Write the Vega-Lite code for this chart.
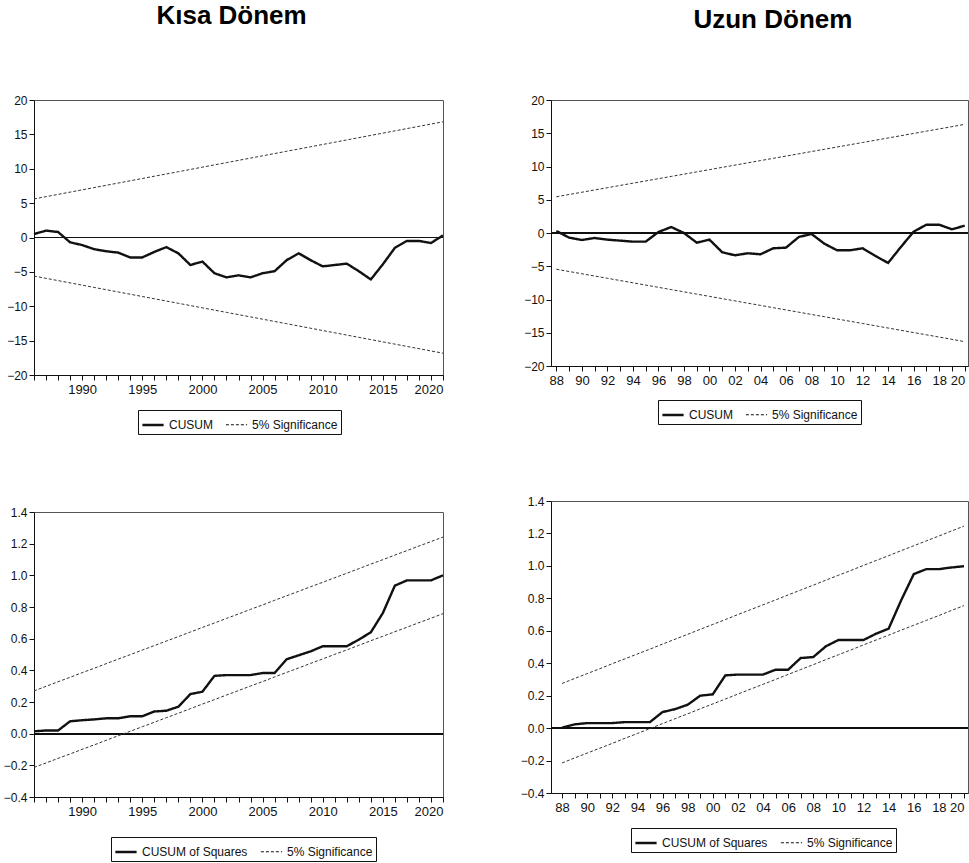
{
  "$schema": "https://vega.github.io/schema/vega-lite/v6.json",
  "padding": {"left": 2, "top": 2, "right": 0, "bottom": 0},
  "background": "white",
  "datasets": {
    "kisaCusum": [
      {"year": 1986, "stat": 0.5, "upper": 5.61, "lower": -5.61},
      {"year": 1987, "stat": 1.0, "upper": 5.94, "lower": -5.94},
      {"year": 1988, "stat": 0.8, "upper": 6.27, "lower": -6.27},
      {"year": 1989, "stat": -0.7, "upper": 6.6, "lower": -6.6},
      {"year": 1990, "stat": -1.1, "upper": 6.93, "lower": -6.93},
      {"year": 1991, "stat": -1.7, "upper": 7.26, "lower": -7.26},
      {"year": 1992, "stat": -2.0, "upper": 7.59, "lower": -7.59},
      {"year": 1993, "stat": -2.2, "upper": 7.92, "lower": -7.92},
      {"year": 1994, "stat": -2.9, "upper": 8.25, "lower": -8.25},
      {"year": 1995, "stat": -2.9, "upper": 8.58, "lower": -8.58},
      {"year": 1996, "stat": -2.1, "upper": 8.91, "lower": -8.91},
      {"year": 1997, "stat": -1.4, "upper": 9.24, "lower": -9.24},
      {"year": 1998, "stat": -2.3, "upper": 9.57, "lower": -9.57},
      {"year": 1999, "stat": -4.0, "upper": 9.9, "lower": -9.9},
      {"year": 2000, "stat": -3.5, "upper": 10.23, "lower": -10.23},
      {"year": 2001, "stat": -5.2, "upper": 10.56, "lower": -10.56},
      {"year": 2002, "stat": -5.8, "upper": 10.89, "lower": -10.89},
      {"year": 2003, "stat": -5.5, "upper": 11.22, "lower": -11.22},
      {"year": 2004, "stat": -5.8, "upper": 11.55, "lower": -11.55},
      {"year": 2005, "stat": -5.2, "upper": 11.88, "lower": -11.88},
      {"year": 2006, "stat": -4.9, "upper": 12.21, "lower": -12.21},
      {"year": 2007, "stat": -3.3, "upper": 12.54, "lower": -12.54},
      {"year": 2008, "stat": -2.3, "upper": 12.87, "lower": -12.87},
      {"year": 2009, "stat": -3.3, "upper": 13.2, "lower": -13.2},
      {"year": 2010, "stat": -4.2, "upper": 13.53, "lower": -13.53},
      {"year": 2011, "stat": -4.0, "upper": 13.86, "lower": -13.86},
      {"year": 2012, "stat": -3.8, "upper": 14.19, "lower": -14.19},
      {"year": 2013, "stat": -4.9, "upper": 14.52, "lower": -14.52},
      {"year": 2014, "stat": -6.1, "upper": 14.85, "lower": -14.85},
      {"year": 2015, "stat": -3.9, "upper": 15.18, "lower": -15.18},
      {"year": 2016, "stat": -1.5, "upper": 15.51, "lower": -15.51},
      {"year": 2017, "stat": -0.5, "upper": 15.84, "lower": -15.84},
      {"year": 2018, "stat": -0.5, "upper": 16.17, "lower": -16.17},
      {"year": 2019, "stat": -0.8, "upper": 16.5, "lower": -16.5},
      {"year": 2020, "stat": 0.3, "upper": 16.83, "lower": -16.83}
    ],
    "kisaSquares": [
      {"year": 1986, "stat": 0.015, "upper": 0.27, "lower": -0.213},
      {"year": 1987, "stat": 0.02, "upper": 0.299, "lower": -0.185},
      {"year": 1988, "stat": 0.02, "upper": 0.328, "lower": -0.156},
      {"year": 1989, "stat": 0.078, "upper": 0.356, "lower": -0.128},
      {"year": 1990, "stat": 0.085, "upper": 0.385, "lower": -0.099},
      {"year": 1991, "stat": 0.09, "upper": 0.413, "lower": -0.071},
      {"year": 1992, "stat": 0.097, "upper": 0.442, "lower": -0.042},
      {"year": 1993, "stat": 0.097, "upper": 0.471, "lower": -0.013},
      {"year": 1994, "stat": 0.11, "upper": 0.499, "lower": 0.015},
      {"year": 1995, "stat": 0.11, "upper": 0.528, "lower": 0.044},
      {"year": 1996, "stat": 0.14, "upper": 0.556, "lower": 0.072},
      {"year": 1997, "stat": 0.145, "upper": 0.585, "lower": 0.101},
      {"year": 1998, "stat": 0.17, "upper": 0.613, "lower": 0.129},
      {"year": 1999, "stat": 0.25, "upper": 0.642, "lower": 0.158},
      {"year": 2000, "stat": 0.265, "upper": 0.671, "lower": 0.187},
      {"year": 2001, "stat": 0.365, "upper": 0.699, "lower": 0.215},
      {"year": 2002, "stat": 0.37, "upper": 0.728, "lower": 0.244},
      {"year": 2003, "stat": 0.37, "upper": 0.756, "lower": 0.272},
      {"year": 2004, "stat": 0.37, "upper": 0.785, "lower": 0.301},
      {"year": 2005, "stat": 0.383, "upper": 0.813, "lower": 0.329},
      {"year": 2006, "stat": 0.383, "upper": 0.842, "lower": 0.358},
      {"year": 2007, "stat": 0.47, "upper": 0.871, "lower": 0.387},
      {"year": 2008, "stat": 0.495, "upper": 0.899, "lower": 0.415},
      {"year": 2009, "stat": 0.52, "upper": 0.928, "lower": 0.444},
      {"year": 2010, "stat": 0.552, "upper": 0.956, "lower": 0.472},
      {"year": 2011, "stat": 0.552, "upper": 0.985, "lower": 0.501},
      {"year": 2012, "stat": 0.552, "upper": 1.013, "lower": 0.529},
      {"year": 2013, "stat": 0.594, "upper": 1.042, "lower": 0.558},
      {"year": 2014, "stat": 0.64, "upper": 1.071, "lower": 0.587},
      {"year": 2015, "stat": 0.762, "upper": 1.099, "lower": 0.615},
      {"year": 2016, "stat": 0.935, "upper": 1.128, "lower": 0.644},
      {"year": 2017, "stat": 0.968, "upper": 1.156, "lower": 0.672},
      {"year": 2018, "stat": 0.968, "upper": 1.185, "lower": 0.701},
      {"year": 2019, "stat": 0.968, "upper": 1.213, "lower": 0.729},
      {"year": 2020, "stat": 1.0, "upper": 1.242, "lower": 0.758}
    ],
    "uzunCusum": [
      {"year": 1988, "stat": 0.3, "upper": 5.45, "lower": -5.45},
      {"year": 1989, "stat": -0.7, "upper": 5.79, "lower": -5.79},
      {"year": 1990, "stat": -1.05, "upper": 6.13, "lower": -6.13},
      {"year": 1991, "stat": -0.75, "upper": 6.47, "lower": -6.47},
      {"year": 1992, "stat": -1.0, "upper": 6.81, "lower": -6.81},
      {"year": 1993, "stat": -1.15, "upper": 7.15, "lower": -7.15},
      {"year": 1994, "stat": -1.3, "upper": 7.49, "lower": -7.49},
      {"year": 1995, "stat": -1.3, "upper": 7.83, "lower": -7.83},
      {"year": 1996, "stat": 0.15, "upper": 8.17, "lower": -8.17},
      {"year": 1997, "stat": 0.9, "upper": 8.51, "lower": -8.51},
      {"year": 1998, "stat": 0.0, "upper": 8.85, "lower": -8.85},
      {"year": 1999, "stat": -1.45, "upper": 9.19, "lower": -9.19},
      {"year": 2000, "stat": -1.0, "upper": 9.53, "lower": -9.53},
      {"year": 2001, "stat": -2.9, "upper": 9.87, "lower": -9.87},
      {"year": 2002, "stat": -3.35, "upper": 10.21, "lower": -10.21},
      {"year": 2003, "stat": -3.05, "upper": 10.55, "lower": -10.55},
      {"year": 2004, "stat": -3.2, "upper": 10.89, "lower": -10.89},
      {"year": 2005, "stat": -2.3, "upper": 11.23, "lower": -11.23},
      {"year": 2006, "stat": -2.2, "upper": 11.57, "lower": -11.57},
      {"year": 2007, "stat": -0.6, "upper": 11.91, "lower": -11.91},
      {"year": 2008, "stat": -0.15, "upper": 12.25, "lower": -12.25},
      {"year": 2009, "stat": -1.6, "upper": 12.59, "lower": -12.59},
      {"year": 2010, "stat": -2.6, "upper": 12.93, "lower": -12.93},
      {"year": 2011, "stat": -2.6, "upper": 13.27, "lower": -13.27},
      {"year": 2012, "stat": -2.3, "upper": 13.61, "lower": -13.61},
      {"year": 2013, "stat": -3.45, "upper": 13.95, "lower": -13.95},
      {"year": 2014, "stat": -4.5, "upper": 14.29, "lower": -14.29},
      {"year": 2015, "stat": -2.1, "upper": 14.63, "lower": -14.63},
      {"year": 2016, "stat": 0.2, "upper": 14.97, "lower": -14.97},
      {"year": 2017, "stat": 1.25, "upper": 15.31, "lower": -15.31},
      {"year": 2018, "stat": 1.25, "upper": 15.65, "lower": -15.65},
      {"year": 2019, "stat": 0.55, "upper": 15.99, "lower": -15.99},
      {"year": 2020, "stat": 1.1, "upper": 16.34, "lower": -16.34}
    ],
    "uzunSquares": [
      {"year": 1988, "stat": 0.002, "upper": 0.275, "lower": -0.215},
      {"year": 1989, "stat": 0.023, "upper": 0.306, "lower": -0.184},
      {"year": 1990, "stat": 0.031, "upper": 0.336, "lower": -0.154},
      {"year": 1991, "stat": 0.031, "upper": 0.366, "lower": -0.124},
      {"year": 1992, "stat": 0.031, "upper": 0.397, "lower": -0.094},
      {"year": 1993, "stat": 0.037, "upper": 0.427, "lower": -0.063},
      {"year": 1994, "stat": 0.037, "upper": 0.457, "lower": -0.033},
      {"year": 1995, "stat": 0.037, "upper": 0.487, "lower": -0.003},
      {"year": 1996, "stat": 0.099, "upper": 0.518, "lower": 0.028},
      {"year": 1997, "stat": 0.117, "upper": 0.548, "lower": 0.058},
      {"year": 1998, "stat": 0.144, "upper": 0.578, "lower": 0.088},
      {"year": 1999, "stat": 0.2, "upper": 0.609, "lower": 0.119},
      {"year": 2000, "stat": 0.208, "upper": 0.639, "lower": 0.149},
      {"year": 2001, "stat": 0.325, "upper": 0.669, "lower": 0.179},
      {"year": 2002, "stat": 0.33, "upper": 0.7, "lower": 0.21},
      {"year": 2003, "stat": 0.33, "upper": 0.73, "lower": 0.24},
      {"year": 2004, "stat": 0.33, "upper": 0.76, "lower": 0.27},
      {"year": 2005, "stat": 0.36, "upper": 0.79, "lower": 0.3},
      {"year": 2006, "stat": 0.36, "upper": 0.821, "lower": 0.331},
      {"year": 2007, "stat": 0.432, "upper": 0.851, "lower": 0.361},
      {"year": 2008, "stat": 0.438, "upper": 0.881, "lower": 0.391},
      {"year": 2009, "stat": 0.504, "upper": 0.912, "lower": 0.422},
      {"year": 2010, "stat": 0.543, "upper": 0.942, "lower": 0.452},
      {"year": 2011, "stat": 0.543, "upper": 0.972, "lower": 0.482},
      {"year": 2012, "stat": 0.543, "upper": 1.003, "lower": 0.513},
      {"year": 2013, "stat": 0.582, "upper": 1.033, "lower": 0.543},
      {"year": 2014, "stat": 0.613, "upper": 1.063, "lower": 0.573},
      {"year": 2015, "stat": 0.788, "upper": 1.094, "lower": 0.604},
      {"year": 2016, "stat": 0.949, "upper": 1.124, "lower": 0.634},
      {"year": 2017, "stat": 0.98, "upper": 1.154, "lower": 0.664},
      {"year": 2018, "stat": 0.98, "upper": 1.184, "lower": 0.694},
      {"year": 2019, "stat": 0.99, "upper": 1.215, "lower": 0.725},
      {"year": 2020, "stat": 0.998, "upper": 1.245, "lower": 0.755}
    ]
  },
  "hconcat": [
    {
      "title": {"text": "Kısa Dönem", "offset": 65, "dx": 6},
      "spacing": 70,
      "resolve": {
        "scale": {"strokeDash": "independent", "strokeWidth": "independent"},
        "legend": {"strokeDash": "independent", "strokeWidth": "independent"}
      },
      "vconcat": [
        {
          "width": 409,
          "height": 275,
          "data": {"name": "kisaCusum"},
          "layer": [
            {
              "mark": {"type": "rule", "color": "#111", "strokeWidth": 1},
              "encoding": {"y": {"datum": 0, "type": "quantitative", "title": null}}
            },
            {
              "transform": [{"fold": ["upper", "lower"], "as": ["band", "value"]}],
              "mark": {"type": "line", "color": "#333"},
              "encoding": {
                "x": {"field": "year", "type": "quantitative", "title": null,
                  "scale": {"domain": [1986, 2020], "nice": false, "zero": false},
                  "axis": {"values": [1986, 1987, 1988, 1989, 1990, 1991, 1992, 1993, 1994, 1995, 1996, 1997, 1998, 1999, 2000, 2001, 2002, 2003, 2004, 2005, 2006, 2007, 2008, 2009, 2010, 2011, 2012, 2013, 2014, 2015, 2016, 2017, 2018, 2019, 2020],
                    "tickCount": 100, "format": "d", "labelOverlap": false, "labelFontSize": 13, "labelPadding": 3,
                    "labelExpr": "datum.value % 5 === 0 ? datum.label : ''"}},
                "y": {"field": "value", "type": "quantitative", "title": null,
                  "scale": {"domain": [-20, 20], "nice": false, "zero": false},
                  "axis": {"values": [-20, -15, -10, -5, 0, 5, 10, 15, 20], "tickCount": 100, "format": "d", "labelOverlap": false}},
                "detail": {"field": "band"},
                "strokeDash": {"datum": "5% Significance",
                  "scale": {"domain": ["CUSUM", "5% Significance"], "range": [[1, 0], [3, 2]]},
                  "legend": {"legendX": 104, "legendY": 310}},
                "strokeWidth": {"datum": "5% Significance",
                  "scale": {"domain": ["CUSUM", "5% Significance"], "range": [2.4, 1]},
                  "legend": {"legendX": 104, "legendY": 310}}
              }
            },
            {
              "mark": {"type": "line", "color": "#111"},
              "encoding": {
                "x": {"field": "year", "type": "quantitative", "title": null},
                "y": {"field": "stat", "type": "quantitative", "title": null},
                "strokeDash": {"datum": "CUSUM"},
                "strokeWidth": {"datum": "CUSUM"}
              }
            }
          ]
        },
        {
          "width": 409,
          "height": 285,
          "data": {"name": "kisaSquares"},
          "layer": [
            {
              "mark": {"type": "rule", "color": "#111", "strokeWidth": 1},
              "encoding": {"y": {"datum": 0, "type": "quantitative", "title": null}}
            },
            {
              "transform": [{"fold": ["upper", "lower"], "as": ["band", "value"]}],
              "mark": {"type": "line", "color": "#333"},
              "encoding": {
                "x": {"field": "year", "type": "quantitative", "title": null,
                  "scale": {"domain": [1986, 2020], "nice": false, "zero": false},
                  "axis": {"values": [1986, 1987, 1988, 1989, 1990, 1991, 1992, 1993, 1994, 1995, 1996, 1997, 1998, 1999, 2000, 2001, 2002, 2003, 2004, 2005, 2006, 2007, 2008, 2009, 2010, 2011, 2012, 2013, 2014, 2015, 2016, 2017, 2018, 2019, 2020],
                    "tickCount": 100, "format": "d", "labelOverlap": false, "labelFontSize": 13, "labelPadding": 3,
                    "labelExpr": "datum.value % 5 === 0 ? datum.label : ''"}},
                "y": {"field": "value", "type": "quantitative", "title": null,
                  "scale": {"domain": [-0.4, 1.4], "nice": false, "zero": false},
                  "axis": {"values": [-0.4, -0.2, 0, 0.2, 0.4, 0.6, 0.8, 1.0, 1.2, 1.4], "tickCount": 100, "format": ".1f", "labelOverlap": false}},
                "detail": {"field": "band"},
                "strokeDash": {"datum": "5% Significance",
                  "scale": {"domain": ["CUSUM of Squares", "5% Significance"], "range": [[1, 0], [3, 2]]},
                  "legend": {"legendX": 77, "legendY": 325}},
                "strokeWidth": {"datum": "5% Significance",
                  "scale": {"domain": ["CUSUM of Squares", "5% Significance"], "range": [2.4, 1]},
                  "legend": {"legendX": 77, "legendY": 325}}
              }
            },
            {
              "mark": {"type": "line", "color": "#111"},
              "encoding": {
                "x": {"field": "year", "type": "quantitative", "title": null},
                "y": {"field": "stat", "type": "quantitative", "title": null},
                "strokeDash": {"datum": "CUSUM of Squares"},
                "strokeWidth": {"datum": "CUSUM of Squares"}
              }
            }
          ]
        }
      ]
    },
    {
      "title": {"text": "Uzun Dönem", "offset": 66, "dx": 28, "dy": 5},
      "spacing": 69,
      "resolve": {
        "scale": {"strokeDash": "independent", "strokeWidth": "independent"},
        "legend": {"strokeDash": "independent", "strokeWidth": "independent"}
      },
      "vconcat": [
        {
          "width": 417,
          "height": 266,
          "data": {"name": "uzunCusum"},
          "layer": [
            {
              "mark": {"type": "rule", "color": "#111", "strokeWidth": 1},
              "encoding": {"y": {"datum": 0, "type": "quantitative", "title": null}}
            },
            {
              "transform": [{"fold": ["upper", "lower"], "as": ["band", "value"]}],
              "mark": {"type": "line", "color": "#333"},
              "encoding": {
                "x": {"field": "year", "type": "quantitative", "title": null,
                  "scale": {"domain": [1987.58, 2020.26], "nice": false, "zero": false},
                  "axis": {"values": [1988, 1989, 1990, 1991, 1992, 1993, 1994, 1995, 1996, 1997, 1998, 1999, 2000, 2001, 2002, 2003, 2004, 2005, 2006, 2007, 2008, 2009, 2010, 2011, 2012, 2013, 2014, 2015, 2016, 2017, 2018, 2019, 2020],
                    "tickCount": 100, "format": "d", "labelFlush": 4.5, "labelOverlap": false, "labelFontSize": 13, "labelPadding": 3,
                    "labelExpr": "datum.value % 2 === 0 ? slice(datum.label, 2) : ''"}},
                "y": {"field": "value", "type": "quantitative", "title": null,
                  "scale": {"domain": [-20, 20], "nice": false, "zero": false},
                  "axis": {"values": [-20, -15, -10, -5, 0, 5, 10, 15, 20], "tickCount": 100, "format": "d", "labelOverlap": false}},
                "detail": {"field": "band"},
                "strokeDash": {"datum": "5% Significance",
                  "scale": {"domain": ["CUSUM", "5% Significance"], "range": [[1, 0], [3, 2]]},
                  "legend": {"legendX": 107, "legendY": 300}},
                "strokeWidth": {"datum": "5% Significance",
                  "scale": {"domain": ["CUSUM", "5% Significance"], "range": [2.4, 1]},
                  "legend": {"legendX": 107, "legendY": 300}}
              }
            },
            {
              "mark": {"type": "line", "color": "#111"},
              "encoding": {
                "x": {"field": "year", "type": "quantitative", "title": null},
                "y": {"field": "stat", "type": "quantitative", "title": null},
                "strokeDash": {"datum": "CUSUM"},
                "strokeWidth": {"datum": "CUSUM"}
              }
            }
          ]
        },
        {
          "width": 417,
          "height": 292,
          "data": {"name": "uzunSquares"},
          "layer": [
            {
              "mark": {"type": "rule", "color": "#111", "strokeWidth": 1},
              "encoding": {"y": {"datum": 0, "type": "quantitative", "title": null}}
            },
            {
              "transform": [{"fold": ["upper", "lower"], "as": ["band", "value"]}],
              "mark": {"type": "line", "color": "#333"},
              "encoding": {
                "x": {"field": "year", "type": "quantitative", "title": null,
                  "scale": {"domain": [1987.12, 2020.32], "nice": false, "zero": false},
                  "axis": {"values": [1988, 1989, 1990, 1991, 1992, 1993, 1994, 1995, 1996, 1997, 1998, 1999, 2000, 2001, 2002, 2003, 2004, 2005, 2006, 2007, 2008, 2009, 2010, 2011, 2012, 2013, 2014, 2015, 2016, 2017, 2018, 2019, 2020],
                    "tickCount": 100, "format": "d", "labelFlush": 6, "labelOverlap": false, "labelFontSize": 13, "labelPadding": 3,
                    "labelExpr": "datum.value % 2 === 0 ? slice(datum.label, 2) : ''"}},
                "y": {"field": "value", "type": "quantitative", "title": null,
                  "scale": {"domain": [-0.4, 1.4], "nice": false, "zero": false},
                  "axis": {"values": [-0.4, -0.2, 0, 0.2, 0.4, 0.6, 0.8, 1.0, 1.2, 1.4], "tickCount": 100, "format": ".1f", "labelOverlap": false}},
                "detail": {"field": "band"},
                "strokeDash": {"datum": "5% Significance",
                  "scale": {"domain": ["CUSUM of Squares", "5% Significance"], "range": [[1, 0], [3, 2]]},
                  "legend": {"legendX": 80, "legendY": 327}},
                "strokeWidth": {"datum": "5% Significance",
                  "scale": {"domain": ["CUSUM of Squares", "5% Significance"], "range": [2.4, 1]},
                  "legend": {"legendX": 80, "legendY": 327}}
              }
            },
            {
              "mark": {"type": "line", "color": "#111"},
              "encoding": {
                "x": {"field": "year", "type": "quantitative", "title": null},
                "y": {"field": "stat", "type": "quantitative", "title": null},
                "strokeDash": {"datum": "CUSUM of Squares"},
                "strokeWidth": {"datum": "CUSUM of Squares"}
              }
            }
          ]
        }
      ]
    }
  ],
  "spacing": 70,
  "resolve": {
    "scale": {"strokeDash": "independent", "strokeWidth": "independent"},
    "legend": {"strokeDash": "independent", "strokeWidth": "independent"}
  },
  "config": {
    "view": {"stroke": "#555", "strokeWidth": 1},
    "title": {"font": "Liberation Sans", "fontSize": 26, "fontWeight": "bold", "color": "#000", "anchor": "middle"},
    "axis": {
      "grid": false,
      "domainColor": "#111",
      "tickColor": "#111",
      "tickSize": 5,
      "labelColor": "#111",
      "labelFont": "Liberation Sans",
      "labelFontSize": 12,
      "labelOverlap": false
    },
    "axisY": {"labelPadding": 2},
    "legend": {
      "orient": "none",
      "direction": "horizontal",
      "title": null,
      "strokeColor": "#111",
      "fillColor": "white",
      "padding": 3,
      "labelFont": "Liberation Sans",
      "labelFontSize": 12,
      "labelColor": "#111",
      "symbolType": "stroke",
      "symbolStrokeColor": "#111",
      "symbolSize": 450,
      "columnPadding": 10,
      "labelOffset": 4
    }
  }
}
